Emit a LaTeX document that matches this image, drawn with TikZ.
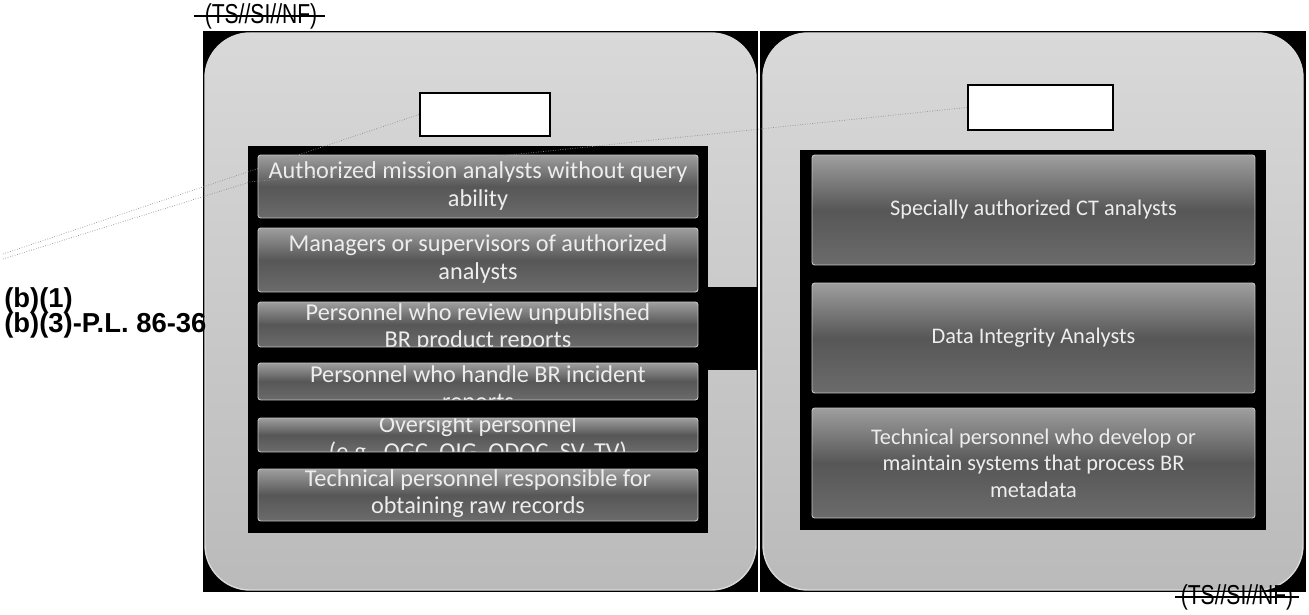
\documentclass[tikz,border=0pt]{standalone}
\usepackage{fontspec}
\setmainfont{Liberation Sans}
\newfontfamily\barfont{Carlito}
\usepackage{tikz}
\usetikzlibrary{calc}
\usetikzlibrary{shapes,positioning}

\begin{document}
\begin{tikzpicture}[x=0.02cm,y=-0.02cm,
	panel/.style={top color=black!15,bottom color=black!27,draw=white!85!black,line width=0.8pt,rounded corners=0.9cm},
	wbox/.style={draw=black,line width=1.3pt,fill=white,inner sep=0pt},
	bar/.style={rectangle,rounded corners=1.5pt,top color=black!38,bottom color=black!58,middle color=black!66,draw=black!22,line width=0.5pt,inner sep=0pt},
	bartxt/.style={text=white!93!black,font=\barfont\fontsize{13.8}{15.5}\selectfont,align=center,inner sep=0pt},
	rbartxt/.style={bartxt,font=\barfont\fontsize{12.7}{15}\selectfont},
	bnote/.style={anchor=west,font=\bfseries\fontsize{15.6}{18}\selectfont,inner sep=0pt},
	tslabel/.style={font=\fontsize{12}{14}\selectfont,inner sep=0pt,yscale=1.3,transform shape},
	lead/.style={densely dotted,black!45,line width=0.4pt}]
	\useasboundingbox (0,0) rectangle (1309,615);
		% the two panels
		\fill[black] (203,31) rectangle (758,592);
		\fill[black] (760,31) rectangle (1306,592);
		\shade[panel] (205,33) rectangle (756,590);
		\shade[panel] (763,33) rectangle (1303,590);
			\fill[black] (248,146) rectangle (708,533);
			\fill[black] (700,287) rectangle (758,370);
			\fill[black] (800,150) rectangle (1266,530);
		% empty headers
		\node (wl) [wbox,minimum width=2.6cm,minimum height=0.86cm] at (485,114.5) {};
		\node (wr) [wbox,minimum width=2.9cm,minimum height=0.9cm] at (1040.5,107.5) {};
		% left list
		\node (lb1) [bar,minimum width=8.8cm,minimum height=1.26cm] at (478,186.5) {};
			\node (lt1) [bartxt] at (478,186) {Authorized mission analysts without query\\ability};
		\node (lb2) [bar,minimum width=8.8cm,minimum height=1.28cm] at (478,260) {};
			\node (lt2) [bartxt] at (478,259) {Managers or supervisors of authorized\\analysts};
		\node (lb3) [bar,minimum width=8.8cm,minimum height=0.9cm,
			path picture={\node (lt3) [bartxt] at ($(path picture bounding box.center)+(0,3)$) {Personnel who review unpublished\\BR product reports};}] at (478,324.5) {};
		\node (lb4) [bar,minimum width=8.8cm,minimum height=0.74cm,
			path picture={\node (lt4) [bartxt] at ($(path picture bounding box.center)+(0,8)$) {Personnel who handle BR incident\\reports};}] at (478,381.5) {};
		\node (lb5) [bar,minimum width=8.8cm,minimum height=0.68cm,
			path picture={\node (lt5) [bartxt] at ($(path picture bounding box.center)+(0,5)$) {Oversight personnel\\(e.g., OGC, OIG, ODOC, SV, TV)};}] at (478,435) {};
		\node (lb6) [bar,minimum width=8.8cm,minimum height=1.04cm] at (478,495) {};
			\node (lt6) [bartxt] at (478,494) {Technical personnel responsible for\\obtaining raw records};
		% right list
		\node (rb1) [bar,minimum width=8.86cm,minimum height=2.2cm] at (1033.5,210) {};
			\node (rt1) [rbartxt] at (rb1.center) {Specially authorized CT analysts};
		\node (rb2) [bar,minimum width=8.86cm,minimum height=2.2cm] at (1033.5,338) {};
			\node (rt2) [rbartxt] at (rb2.center) {Data Integrity Analysts};
		\node (rb3) [bar,minimum width=8.86cm,minimum height=2.2cm] at (1033.5,463) {};
			\node (rt3) [rbartxt] at (rb3.center) {Technical personnel who develop or\\maintain systems that process BR\\metadata};
		% exemption notes and leaders
		\node (b1) [bnote] at (4,300) {(b)(1)};
		\node (b3) [bnote] at (4,325) {(b)(3)-P.L. 86-36};
		\coordinate (src) at (3,254);
		\coordinate (src2) at (3,259);
		\coordinate (kink) at (250,182);
			\draw[lead] (src) -- (wl.west);
			\draw[lead] (src2) -- (kink) -- (wr.west);
		% markings
		\node (ts1) [tslabel] at (261,16) {(TS//SI//NF)};
			\draw[line width=0.9pt] ([xshift=-6pt]ts1.west) -- ([xshift=4pt]ts1.east);
		\node (ts2) [tslabel] at (1237,597) {(TS//SI//NF)};
			\draw[line width=0.9pt] ([xshift=-3pt]ts2.west) -- ([xshift=3pt]ts2.east);
\end{tikzpicture}
\end{document}
